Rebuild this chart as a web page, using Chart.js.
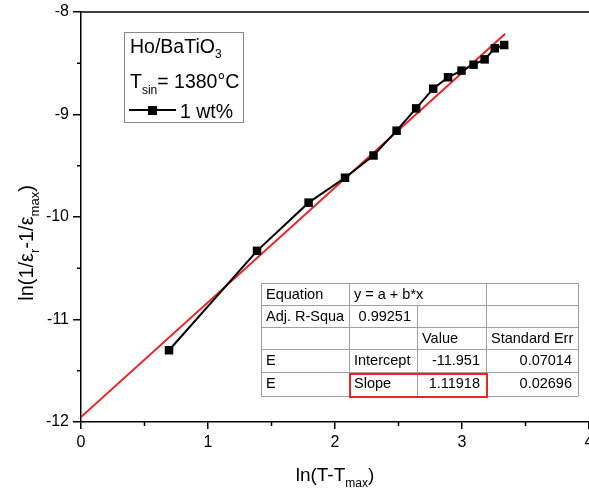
<!DOCTYPE html>
<html>
<head>
<meta charset="utf-8">
<script src="https://cdn.jsdelivr.net/npm/chart.js@4.4.0/dist/chart.umd.min.js"></script>
<style>
  html, body { margin: 0; padding: 0; background: #fff; }
  #wrap { width: 589px; height: 490px; position: relative; }
</style>
</head>
<body>
<div id="wrap"><canvas id="grafico"></canvas></div>
<script>
// ln(T - Tmax) and ln(1/er - 1/emax), 1 wt% Ho
var lnDT = [0.693, 1.386, 1.792, 2.079, 2.303, 2.485, 2.639, 2.773, 2.890, 2.996, 3.091, 3.178, 3.258, 3.332];
var lnEps = [-11.30, -10.33, -9.86, -9.617, -9.40, -9.158, -8.94, -8.748, -8.637, -8.572, -8.514, -8.462, -8.354, -8.322];

// linear fit results
var fitIntercept = -11.951;
var fitSlope = 1.11918;
var fitRange = [0, 3.34];

var xTicks = [0, 1, 2, 3, 4];
var yTicks = [-12, -11, -10, -9, -8];

// fit table rows
var tablaFilas = [
    ['Equation', 'y = a + b*x', '', ''],
    ['Adj. R-Squa', '0.99251', '', ''],
    ['', '', 'Value', 'Standard Err'],
    ['E', 'Intercept', '-11.951', '0.07014'],
    ['E', 'Slope', '1.11918', '0.02696']
];

var FUENTE = '"Liberation Sans", Arial, sans-serif';

var puntos = [];
for (var i = 0; i < lnDT.length; i++) {
    puntos.push({x: lnDT[i], y: lnEps[i]});
}
var recta = fitRange.map(function (x) {
    return {x: x, y: fitIntercept + fitSlope * x};
});

// text with subscript pieces: [[text, isSub], ...]
function textoSub(ctx, partes, x, y, size, subSize, subDrop, align) {
    var total = 0;
    partes.forEach(function (p) {
        ctx.font = (p[1] ? subSize : size) + 'px ' + FUENTE;
        total += ctx.measureText(p[0]).width;
    });
    var cx = align == 'center' ? x - total / 2 : x;
    ctx.textAlign = 'left';
    ctx.textBaseline = 'alphabetic';
    partes.forEach(function (p) {
        ctx.font = (p[1] ? subSize : size) + 'px ' + FUENTE;
        ctx.fillText(p[0], cx, p[1] ? y + subDrop : y);
        cx += ctx.measureText(p[0]).width;
    });
}

var extras = {
    id: 'extras',
    afterDraw: function (chart) {
        var ctx = chart.ctx;
        var a = chart.chartArea;
        var sx = chart.scales.x, sy = chart.scales.y;
        ctx.save();
        ctx.strokeStyle = '#000';
        ctx.fillStyle = '#000';
        ctx.lineWidth = 1.5;

        // top frame line
        ctx.beginPath();
        ctx.moveTo(a.left, a.top);
        ctx.lineTo(a.right, a.top);
        ctx.stroke();

        // minor ticks
        ctx.beginPath();
        for (var v = 0.5; v < 4; v += 1) {
            var px = sx.getPixelForValue(v);
            ctx.moveTo(px, a.bottom);
            ctx.lineTo(px, a.bottom + 4);
        }
        for (var w = -11.5; w < -8; w += 1) {
            var py = sy.getPixelForValue(w);
            ctx.moveTo(a.left, py);
            ctx.lineTo(a.left - 4, py);
        }
        ctx.stroke();

        // axis titles
        ctx.fillStyle = '#000';
        textoSub(ctx, [['ln(T-T', false], ['max', true], [')', false]],
            (a.left + a.right) / 2, 481, 19, 12, 6, 'center');
        ctx.save();
        ctx.translate(33, 243);
        ctx.rotate(-Math.PI / 2);
        textoSub(ctx, [['ln(1/\u03b5', false], ['r', true], ['-1/\u03b5', false], ['max', true], [')', false]],
            0, 0, 20, 13, 6, 'center');
        ctx.restore();

        // legend box
        ctx.fillStyle = '#fff';
        ctx.fillRect(124, 32, 119, 90);
        ctx.strokeStyle = '#888';
        ctx.lineWidth = 1;
        ctx.strokeRect(124.5, 32.5, 119, 90);
        ctx.fillStyle = '#000';
        textoSub(ctx, [['Ho/BaTiO', false], ['3', true]], 130, 53, 19.5, 12, 5, 'left');
        textoSub(ctx, [['T', false], ['sin', true], ['= 1380\u00b0C', false]], 130, 88, 19.5, 12, 6, 'left');
        ctx.strokeStyle = '#000';
        ctx.lineWidth = 2;
        ctx.beginPath();
        ctx.moveTo(129, 110);
        ctx.lineTo(176, 110);
        ctx.stroke();
        ctx.fillRect(148, 106, 9, 9);
        ctx.font = '19.5px ' + FUENTE;
        ctx.textAlign = 'left';
        ctx.fillText('1 wt%', 180, 118);

        // fit table
        var cols = [261, 349, 417, 486, 578];
        var filas = [283, 305, 327, 349, 372, 396];
        ctx.fillStyle = '#fff';
        ctx.fillRect(cols[0], filas[0], cols[4] - cols[0], filas[5] - filas[0]);
        ctx.strokeStyle = '#a0a0a0';
        ctx.lineWidth = 1;
        ctx.beginPath();
        filas.forEach(function (f) {
            ctx.moveTo(cols[0], f + 0.5);
            ctx.lineTo(cols[4], f + 0.5);
        });
        cols.forEach(function (c, k) {
            var desde = (k == 2) ? filas[1] : filas[0];
            ctx.moveTo(c + 0.5, desde);
            ctx.lineTo(c + 0.5, filas[5]);
        });
        ctx.stroke();
        ctx.fillStyle = '#000';
        ctx.font = '14.5px ' + FUENTE;
        tablaFilas.forEach(function (fila, r) {
            var base = filas[r] + 16;
            fila.forEach(function (txt, c) {
                if (!txt) return;
                var numero = /^-?[0-9.]+$/.test(txt);
                if (numero) {
                    ctx.textAlign = 'right';
                    ctx.fillText(txt, cols[c + 1] - 6, base);
                } else {
                    ctx.textAlign = 'left';
                    ctx.fillText(txt, cols[c] + 5, base);
                }
            });
        });
        ctx.strokeStyle = '#e8262a';
        ctx.lineWidth = 2;
        ctx.strokeRect(350, 374, 137, 23);
        ctx.restore();
    }
};

var crx = document.getElementById('grafico').getContext('2d');
var myChart = new Chart(crx, {
    type: 'scatter',
    data: {
        datasets: [{
            label: '1 wt%',
            data: puntos,
            showLine: true,
            borderColor: '#000',
            backgroundColor: '#000',
            borderWidth: 2,
            pointStyle: 'rect',
            pointRadius: 6,
            pointBorderWidth: 0
        }, {
            label: 'fit',
            data: recta,
            showLine: true,
            borderColor: '#e8262a',
            borderWidth: 2,
            pointRadius: 0
        }]
    },
    options: {
        responsive: true,
        maintainAspectRatio: false,
        animation: false,
        devicePixelRatio: 1,
        layout: { autoPadding: false, padding: { left: 0, right: 0, top: 12, bottom: 0 } },
        plugins: { legend: { display: false }, tooltip: { enabled: false } },
        scales: {
            x: {
                type: 'linear',
                min: 0, max: 4,
                afterBuildTicks: function (s) { s.ticks = xTicks.map(function (v) { return {value: v}; }); },
                afterFit: function (s) { s.height = 68; s.paddingLeft = 0; s.paddingRight = 0; },
                border: { display: true, color: '#000', width: 1.5 },
                grid: { drawOnChartArea: false, drawTicks: true, tickLength: 7, color: '#000', lineWidth: 1.5 },
                ticks: { color: '#000', font: { family: FUENTE, size: 16 }, padding: 4, maxRotation: 0 }
            },
            y: {
                type: 'linear',
                min: -12, max: -8,
                afterBuildTicks: function (s) { s.ticks = yTicks.map(function (v) { return {value: v}; }); },
                afterFit: function (s) { s.width = 81; s.paddingTop = 0; s.paddingBottom = 0; },
                border: { display: true, color: '#000', width: 1.5 },
                grid: { drawOnChartArea: false, drawTicks: true, tickLength: 8, color: '#000', lineWidth: 1.5 },
                ticks: { color: '#000', font: { family: FUENTE, size: 16 }, padding: 4 }
            }
        }
    },
    plugins: [extras]
});
</script>
</body>
</html>
